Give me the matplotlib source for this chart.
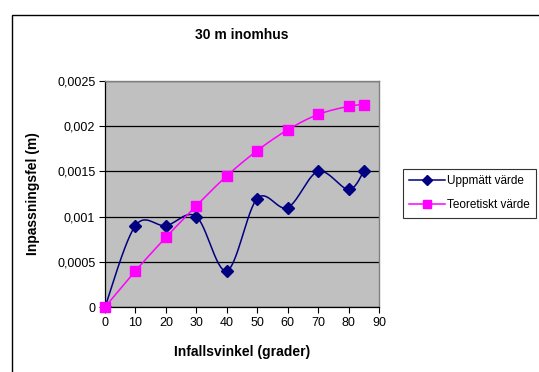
import numpy as np
import matplotlib
matplotlib.use("Agg")
import matplotlib.pyplot as plt
from matplotlib.patches import Rectangle
from matplotlib.ticker import FuncFormatter
from matplotlib.lines import Line2D

plt.rcParams['font.family'] = ['Liberation Sans', 'DejaVu Sans']

title = "30 m inomhus"
x_label = "Infallsvinkel (grader)"
y_label = "Inpassningsfel (m)"
angles = [0, 10, 20, 30, 40, 50, 60, 70, 80, 85]
measured = [0.0, 0.0009, 0.0009, 0.0010, 0.0004, 0.0012, 0.0011, 0.0015, 0.0013, 0.0015]
theoretical = [0.0, 0.00040, 0.00077, 0.00112, 0.00145, 0.00173, 0.00196, 0.00213, 0.00222, 0.00224]
series_names = ["Uppmätt värde", "Teoretiskt värde"]
x_ticks = [0, 10, 20, 30, 40, 50, 60, 70, 80, 90]
y_ticks = [0, 0.0005, 0.001, 0.0015, 0.002, 0.0025]


def smooth(xs, ys, n=30):
    xs = np.asarray(xs, float); ys = np.asarray(ys, float)
    P = np.column_stack([xs, ys])
    Pe = np.vstack([P[0], P, P[-1]])
    out = []
    t = np.linspace(0, 1, n)[:, None]
    for i in range(len(P) - 1):
        p0 = Pe[i + 1]; p3 = Pe[i + 2]
        c1 = p0 + (Pe[i + 2] - Pe[i]) / 6.0
        c2 = p3 - (Pe[i + 3] - Pe[i + 1]) / 6.0
        seg = (1 - t) ** 3 * p0 + 3 * (1 - t) ** 2 * t * c1 + 3 * (1 - t) * t ** 2 * c2 + t ** 3 * p3
        out.append(seg if i == 0 else seg[1:])
    out = np.vstack(out)
    return out[:, 0], out[:, 1]


W, H = 539, 372
fig = plt.figure(figsize=(W / 100, H / 100), dpi=100)
fig.patch.set_facecolor('white')

# outer chart frame
fig.patches.append(Rectangle((12 / W, -0.1), 2.0, 1 - 15 / H + 0.1, transform=fig.transFigure,
                             fill=False, edgecolor='black', linewidth=1.0))

left, right, top, bottom = 105, 379, 81, 307
ax = fig.add_axes([left / W, 1 - bottom / H, (right - left) / W, (bottom - top) / H])
ax.set_facecolor('#C0C0C0')

bx, by = smooth(angles, measured)
ax.plot(bx, by, color='#000080', linewidth=1.1, zorder=3)
ax.plot(angles, measured, linestyle='none', marker='D', markersize=6,
        color='#000080', zorder=4)
tx, ty = smooth(angles, theoretical)
ax.plot(tx, ty, color='#FF00FF', linewidth=1.1, zorder=3)
ax.plot(angles, theoretical, linestyle='none', marker='s', markersize=6.5,
        color='#FF00FF', zorder=5, clip_on=False)

ax.set_xlim(0, 90)
ax.set_ylim(0, 0.0025)
ax.set_xticks(x_ticks)
ax.set_yticks(y_ticks)
ax.yaxis.set_major_formatter(FuncFormatter(lambda v, p: ('%g' % round(v, 6)).replace('.', ',')))
ax.yaxis.grid(True, color='black', linewidth=0.9)
ax.set_axisbelow(True)
ax.tick_params(direction='out', length=4, width=0.8, labelsize=9, colors='black', pad=3)
for s in ['top', 'right']:
    ax.spines[s].set_color('#808080')
    ax.spines[s].set_linewidth(1.0)
for s in ['left', 'bottom']:
    ax.spines[s].set_color('black')
    ax.spines[s].set_linewidth(0.9)

fig.text((left + right) / 2 / W, 1 - 35 / H, title, ha='center', va='center',
         fontsize=10, fontweight='bold')
fig.text((left + right) / 2 / W, 1 - 352 / H, x_label, ha='center', va='center',
         fontsize=10, fontweight='bold')
fig.text(33 / W, 1 - 194 / H, y_label, ha='center', va='center',
         rotation=90, fontsize=10, fontweight='bold')

# legend
handles = [Line2D([], [], color='#000080', marker='D', markersize=5, linewidth=1.1),
           Line2D([], [], color='#FF00FF', marker='s', markersize=6, linewidth=1.1)]
leg = fig.legend(handles, series_names, loc='upper left',
                 bbox_to_anchor=(403 / W, 1 - 169 / H), frameon=True, fancybox=False,
                 fontsize=8.5, borderpad=0.55, labelspacing=1.0, handlelength=3.0,
                 handletextpad=0.15, borderaxespad=0)
leg.get_frame().set_edgecolor('black')
leg.get_frame().set_linewidth(0.8)

fig.savefig('out.png', dpi=100)
